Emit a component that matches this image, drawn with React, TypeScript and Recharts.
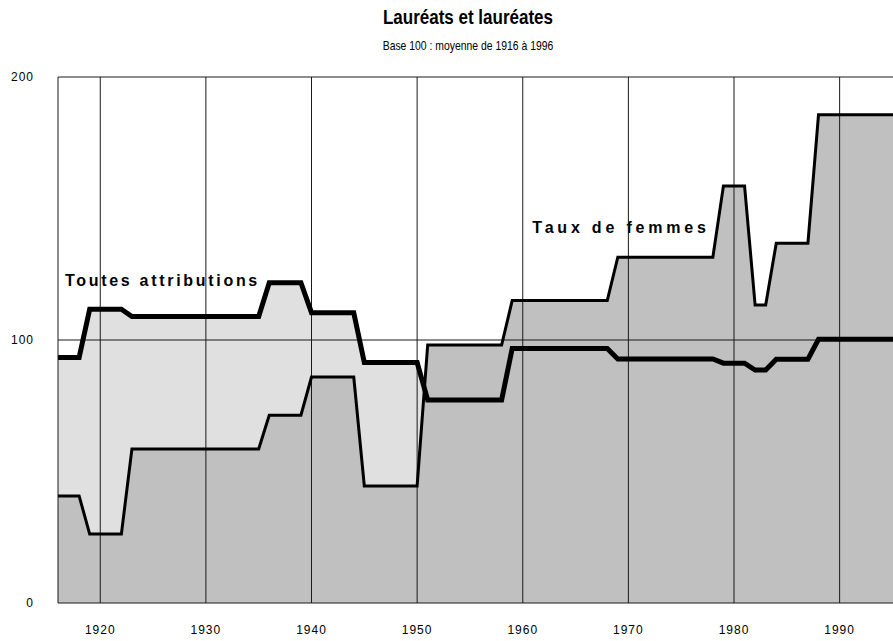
import React from "react";
import {
  Area,
  ComposedChart,
  Line,
  ReferenceArea,
  ReferenceLine,
  XAxis,
  YAxis,
} from "recharts";

// yearly index values, base 100 = 1916-1996 average
const YEARS = [
  1916, 1917, 1918, 1919, 1920, 1921, 1922, 1923, 1924, 1925,
  1926, 1927, 1928, 1929, 1930, 1931, 1932, 1933, 1934, 1935,
  1936, 1937, 1938, 1939, 1940, 1941, 1942, 1943, 1944, 1945,
  1946, 1947, 1948, 1949, 1950, 1951, 1952, 1953, 1954, 1955,
  1956, 1957, 1958, 1959, 1960, 1961, 1962, 1963, 1964, 1965,
  1966, 1967, 1968, 1969, 1970, 1971, 1972, 1973, 1974, 1975,
  1976, 1977, 1978, 1979, 1980, 1981, 1982, 1983, 1984, 1985,
  1986, 1987, 1988, 1989, 1990, 1991, 1992, 1993, 1994, 1995,
  1996,
];

const TOUTES = [
  93.3, 93.3, 93.3, 111.7, 111.7, 111.7, 111.7, 108.9, 108.9, 108.9,
  108.9, 108.9, 108.9, 108.9, 108.9, 108.9, 108.9, 108.9, 108.9, 108.9,
  121.8, 121.8, 121.8, 121.8, 110.4, 110.4, 110.4, 110.4, 110.4, 91.4,
  91.4, 91.4, 91.4, 91.4, 91.4, 77.2, 77.2, 77.2, 77.2, 77.2,
  77.2, 77.2, 77.2, 96.8, 96.8, 96.8, 96.8, 96.8, 96.8, 96.8,
  96.8, 96.8, 96.8, 92.8, 92.8, 92.8, 92.8, 92.8, 92.8, 92.8,
  92.8, 92.8, 92.8, 91.2, 91.2, 91.2, 88.6, 88.6, 92.7, 92.7,
  92.7, 92.7, 100.3, 100.3, 100.3, 100.3, 100.3, 100.3, 100.3, 100.3,
  100.3,
];

const FEMMES = [
  40.7, 40.7, 40.7, 26.2, 26.2, 26.2, 26.2, 58.6, 58.6, 58.6,
  58.6, 58.6, 58.6, 58.6, 58.6, 58.6, 58.6, 58.6, 58.6, 58.6,
  71.4, 71.4, 71.4, 71.4, 85.9, 85.9, 85.9, 85.9, 85.9, 44.5,
  44.5, 44.5, 44.5, 44.5, 44.5, 98.1, 98.1, 98.1, 98.1, 98.1,
  98.1, 98.1, 98.1, 115.0, 115.0, 115.0, 115.0, 115.0, 115.0, 115.0,
  115.0, 115.0, 115.0, 131.5, 131.5, 131.5, 131.5, 131.5, 131.5, 131.5,
  131.5, 131.5, 131.5, 158.6, 158.6, 158.6, 113.3, 113.3, 136.8, 136.8,
  136.8, 136.8, 185.6, 185.6, 185.6, 185.6, 185.6, 185.6, 185.6, 185.6,
  185.6,
];

const X_TICKS = [1920, 1930, 1940, 1950, 1960, 1970, 1980, 1990];
const Y_TICKS = [0, 100, 200];

const data = YEARS.map((year, i) => ({
  year,
  toutes: TOUTES[i],
  femmes: FEMMES[i],
}));

const GRID = "#1a1a1a";
const FONT = "Arial, 'Liberation Sans', sans-serif";

function BoxLabel(props: any) {
  const { viewBox, text, spacing } = props;
  return (
    <text
      x={viewBox.x + viewBox.width / 2}
      y={viewBox.y + viewBox.height / 2}
      textAnchor="middle"
      dominantBaseline="central"
      fontFamily={FONT}
      fontSize={16}
      fontWeight="bold"
      letterSpacing={spacing}
      fill="#000"
    >
      {text}
    </text>
  );
}

const tickStyle = { fill: "#000", fontSize: 12, fontFamily: FONT, letterSpacing: 1 };

export default function App() {
  return (
    <div
      style={{
        position: "absolute",
        left: 0,
        top: 0,
        width: 893,
        height: 641,
        overflow: "hidden",
        background: "#fff",
      }}
    >
      {/* no narrow font available, so squeeze Arial horizontally */}
      <div
        style={{
          position: "absolute",
          left: 0,
          top: 6,
          width: 936,
          textAlign: "center",
          fontFamily: FONT,
          fontWeight: "bold",
          fontSize: 20,
          lineHeight: "22px",
          transform: "scaleX(0.85)",
          transformOrigin: "468px 0",
        }}
      >
        Lauréats et lauréates
      </div>
      <div
        style={{
          position: "absolute",
          left: 0,
          top: 38,
          width: 936,
          textAlign: "center",
          fontFamily: FONT,
          fontSize: 13,
          lineHeight: "16px",
          transform: "scaleX(0.8)",
          transformOrigin: "468px 0",
        }}
      >
        Base 100 : moyenne de 1916 à 1996
      </div>
      <div style={{ position: "absolute", left: 0, top: 0 }}>
        <ComposedChart
          width={923}
          height={641}
          data={data}
          margin={{ top: 77, right: 20, bottom: 8, left: 0 }}
        >
          <XAxis
            dataKey="year"
            type="number"
            domain={[1916, 1996]}
            ticks={X_TICKS}
            tickLine={false}
            tickSize={0}
            tickMargin={22}
            height={30}
            axisLine={{ stroke: GRID, strokeWidth: 1 }}
            tick={tickStyle}
            allowDataOverflow
          />
          <YAxis
            type="number"
            domain={[0, 200]}
            ticks={Y_TICKS}
            width={58}
            tickLine={false}
            tickSize={0}
            tickMargin={24}
            axisLine={{ stroke: GRID, strokeWidth: 1 }}
            tick={tickStyle}
          />
          <Area
            type="linear"
            dataKey="toutes"
            stroke="none"
            fill="#e0e0e0"
            fillOpacity={1}
            isAnimationActive={false}
          />
          <Area
            type="linear"
            dataKey="femmes"
            stroke="none"
            fill="#c0c0c0"
            fillOpacity={1}
            isAnimationActive={false}
          />
          {X_TICKS.map((x) => (
            <ReferenceLine key={x} x={x} stroke={GRID} strokeWidth={1} />
          ))}
          <ReferenceLine y={100} stroke={GRID} strokeWidth={1} />
          <ReferenceLine y={200} stroke={GRID} strokeWidth={1} />
          <ReferenceArea
            x1={1916.38}
            x2={1935.4}
            y1={117.1}
            y2={128.5}
            fill="#fff"
            fillOpacity={1}
            stroke="none"
            label={<BoxLabel text="Toutes attributions" spacing={2.7} />}
          />
          <ReferenceArea
            x1={1960.7}
            x2={1977.9}
            y1={136.5}
            y2={148.7}
            fill="#fff"
            fillOpacity={1}
            stroke="none"
            label={<BoxLabel text="Taux de femmes" spacing={3.8} />}
          />
          <Line
            type="linear"
            dataKey="femmes"
            stroke="#000"
            strokeWidth={3}
            dot={false}
            activeDot={false}
            isAnimationActive={false}
          />
          <Line
            type="linear"
            dataKey="toutes"
            stroke="#000"
            strokeWidth={5}
            dot={false}
            activeDot={false}
            isAnimationActive={false}
          />
        </ComposedChart>
      </div>
    </div>
  );
}
